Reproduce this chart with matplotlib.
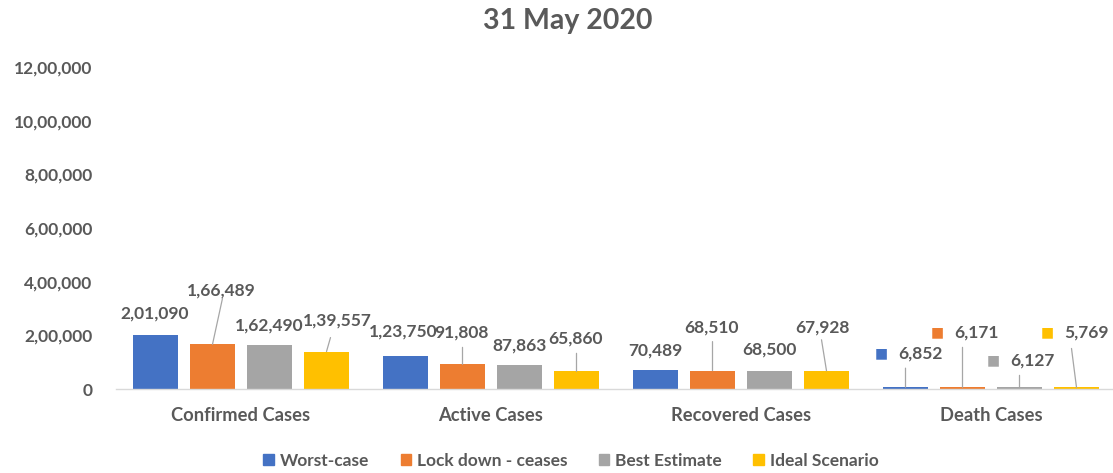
import numpy as np
import matplotlib.pyplot as plt
from matplotlib.patches import Patch
from matplotlib.ticker import FuncFormatter

plt.rcParams['font.family'] = ['Lato', 'DejaVu Sans']

categories = ['Confirmed Cases', 'Active Cases', 'Recovered Cases', 'Death Cases']
series = ['Worst-case', 'Lock down - ceases', 'Best Estimate', 'Ideal Scenario']
worst = [201090, 123750, 70489, 6852]
lockdown = [166489, 91808, 68510, 6171]
best = [162490, 87863, 68500, 6127]
ideal = [139557, 65860, 67928, 5769]
values = [worst, lockdown, best, ideal]
colors = ['#4472C4', '#ED7D31', '#A5A5A5', '#FFC000']

text_col = '#595959'
line_col = '#A6A6A6'

# label offsets (pixels) from bar top, per series and category
label_off = [
    [(-1, 22), (-2, 24), (0, 20), (15, 34)],
    [(9, 54), (-1, 32), (-1, 43), (14, 55)],
    [(0, 20), (0, 20), (0, 21), (13, 27)],
    [(11, 31), (-1, 33), (-4, 43), (10, 55)],
]
# leader line end points (pixels) from bar top, None = no leader
leader_off = [
    [None, None, None, (0, 19)],
    [(10, 46), (0, 17), (0, 29), (0, 40)],
    [None, None, None, (0, 12)],
    [(4, 14), (0, 18), (-5, 31), (-5, 39)],
]


def indian(v, pos=None):
    s = str(int(round(v)))
    if len(s) <= 3:
        return s
    head, tail = s[:-3], s[-3:]
    parts = []
    while len(head) > 2:
        parts.insert(0, head[-2:])
        head = head[:-2]
    if head:
        parts.insert(0, head)
    return ','.join(parts + [tail])


fig = plt.figure(figsize=(11.13, 4.73), dpi=100)
ax = fig.add_axes([116 / 1113, 84 / 473, 1000 / 1113, 322 / 473])

x = np.arange(len(categories))
step = 0.228
width = 0.18
for i, (vals, c) in enumerate(zip(values, colors)):
    xs = x + (i - 1.5) * step
    ax.bar(xs, vals, width=width, color=c, zorder=2)
    for j, (xx, v) in enumerate(zip(xs, vals)):
        dx, dy = label_off[i][j]
        ax.annotate(indian(v), xy=(xx, v), xytext=(dx, dy), textcoords='offset pixels',
                    ha='center', va='center', fontsize=12.5, fontweight='bold', color=text_col)
        if leader_off[i][j] is not None:
            lx, ly = leader_off[i][j]
            ax.annotate('', xy=(xx, v), xytext=(lx, ly), textcoords='offset pixels',
                        arrowprops=dict(arrowstyle='-', color=line_col, lw=0.9,
                                        shrinkA=0, shrinkB=0))
        if j == 3:
            # legend key next to the small death-case labels
            ax.annotate('■', xy=(xx, v), xytext=(dx - 39, dy), textcoords='offset pixels',
                        ha='center', va='center', fontsize=10, color=c,
                        family='DejaVu Sans')

ax.set_xlim(-0.5, 3.5)
ax.set_ylim(0, 1200000)
ax.set_yticks(np.arange(0, 1200001, 200000))
ax.yaxis.set_major_formatter(FuncFormatter(indian))
ax.set_xticks(x)
ax.set_xticklabels(categories)
ax.tick_params(axis='y', length=0, pad=17, labelsize=12.5, labelcolor=text_col)
ax.tick_params(axis='x', length=0, pad=13, labelsize=13.2, labelcolor=text_col)
for lab in ax.get_yticklabels() + ax.get_xticklabels():
    lab.set_fontweight('bold')

for s in ['top', 'right', 'left']:
    ax.spines[s].set_visible(False)
ax.spines['bottom'].set_color('#D9D9D9')
ax.spines['bottom'].set_linewidth(1)

fig.text(568 / 1113, 1 - 21 / 473, '31 May 2020', ha='center', va='center',
         fontsize=20.5, fontweight='bold', color='#595959')

handles = [Patch(color=c) for c in colors]
fig.legend(handles, series, loc='center', bbox_to_anchor=(571 / 1113, 1 - 461 / 473),
           ncol=4, frameon=False, prop={'size': 12.5, 'weight': 'bold'},
           handlelength=0.6, handleheight=0.6,
           handletextpad=0.35, columnspacing=1.8, labelcolor=text_col)

fig.savefig('out.png', dpi=100)
